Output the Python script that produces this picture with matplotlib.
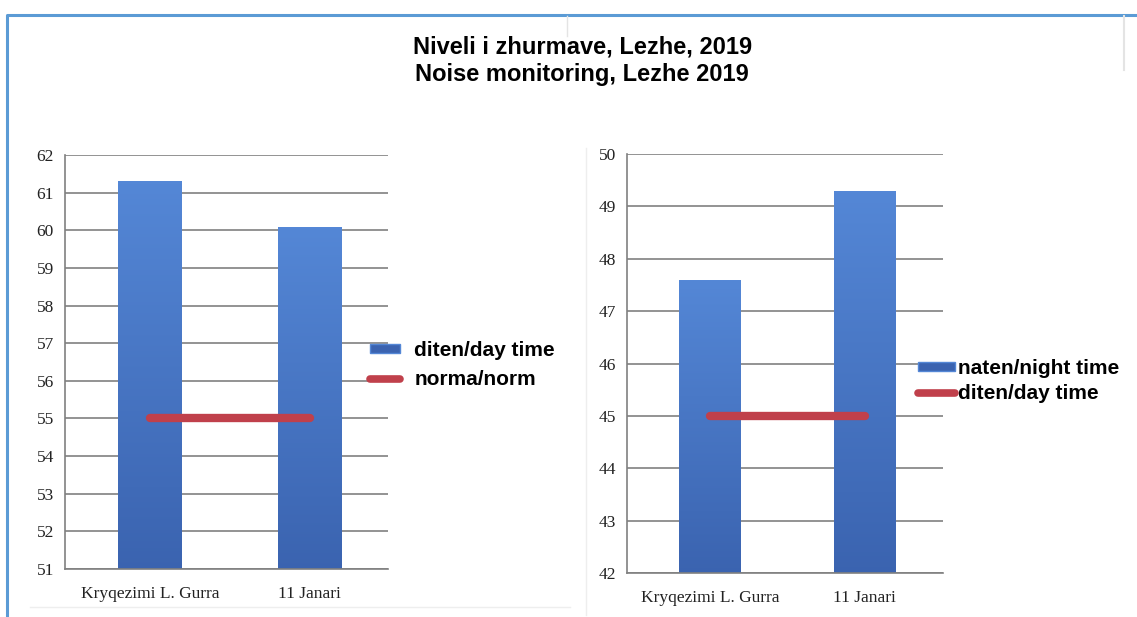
import numpy as np
import matplotlib.pyplot as plt
from matplotlib.lines import Line2D
from matplotlib.patches import Patch

# data
categories = ["Kryqezimi L. Gurra", "11 Janari"]
day_values = [61.3, 60.1]
day_norm = [55, 55]
night_values = [47.6, 49.3]
night_norm = [45, 45]

title_lines = ["Niveli i zhurmave, Lezhe, 2019", "Noise monitoring, Lezhe 2019"]

BLUE_TOP = np.array([0.33, 0.53, 0.84])
BLUE_BOT = np.array([0.23, 0.39, 0.69])
RED = "#c0404b"
GRID = "#808080"

fig = plt.figure(figsize=(11.37, 6.17), dpi=100)


def gradient_bars(ax, bars):
    # vertical gradient inside each bar, lighter at the top
    grad = np.linspace(0, 1, 256)[:, None, None]
    img = BLUE_BOT * (1 - grad) + BLUE_TOP * grad
    for b in bars:
        x0, y0 = b.get_x(), b.get_y()
        w, h = b.get_width(), b.get_height()
        im = ax.imshow(img, extent=(x0, x0 + w, y0, y0 + h), origin="lower",
                       aspect="auto", zorder=2)
        im.set_clip_path(b)
        b.set_facecolor("none")


def draw_panel(rect, values, norm, ylim, xlim):
    ax = fig.add_axes(rect)
    x = np.arange(len(categories))
    bars = ax.bar(x, values - np.array(ylim[0]), bottom=ylim[0], width=0.4,
                  color="none", edgecolor="none", zorder=2)
    gradient_bars(ax, bars)
    ax.plot(x, norm, color=RED, lw=6, solid_capstyle="round", zorder=3)
    ax.set_xlim(*xlim)
    ax.set_ylim(*ylim)
    ax.set_yticks(np.arange(ylim[0], ylim[1] + 1))
    ax.set_xticks(x)
    ax.set_xticklabels(categories)
    ax.yaxis.grid(True, color=GRID, lw=1.2, zorder=1)
    ax.set_axisbelow(True)
    for s in ["top", "right"]:
        ax.spines[s].set_visible(False)
    for s in ["left", "bottom"]:
        ax.spines[s].set_color(GRID)
        ax.spines[s].set_linewidth(1.2)
    ax.tick_params(length=0, labelsize=12.5, colors="#222222")
    ax.tick_params(axis="y", pad=8)
    ax.tick_params(axis="x", pad=12)
    for lab in ax.get_xticklabels() + ax.get_yticklabels():
        lab.set_family("Liberation Serif")
    return ax


ax1 = draw_panel([0.0572, 0.0778, 0.284, 0.671], day_values, day_norm,
                 (51, 62), (-0.53, 1.49))
ax2 = draw_panel([0.5515, 0.0713, 0.278, 0.679], night_values, night_norm,
                 (42, 50), (-0.54, 1.51))

legend_font = {"family": "Liberation Sans", "weight": "bold", "size": 15}


def add_legend(ax, labels, anchor, spacing, hlen, textpad):
    handles = [Patch(facecolor=BLUE_BOT, edgecolor=BLUE_TOP),
               Line2D([0], [0], color=RED, lw=5.5, solid_capstyle="round")]
    ax.legend(handles, labels, loc="upper left", bbox_to_anchor=anchor,
              bbox_transform=fig.transFigure, frameon=False, prop=legend_font,
              borderpad=0, borderaxespad=0, handlelength=hlen, handleheight=0.35,
              handletextpad=textpad, labelspacing=spacing)


add_legend(ax1, ["diten/day time", "norma/norm"], (0.325, 1 - 341 / 617), 0.5, 1.45, 0.7)
add_legend(ax2, ["naten/night time", "diten/day time"], (0.807, 1 - 359 / 617), 0.28, 1.8, 0.15)

fig.text(0.512, 1 - 61 / 617, "\n".join(title_lines), ha="center", va="center",
         family="Liberation Sans", weight="bold", size=17, linespacing=1.25)

# page frame and faint separators from the screenshot
W, H = 1137, 617
def fline(xs, ys, color, lw):
    fig.add_artist(Line2D([v / W for v in xs], [1 - v / H for v in ys],
                          color=color, lw=lw, transform=fig.transFigure))

fline([7, 7, 1137], [617, 15, 15], "#5b9bd5", 2.2)
fline([567, 567], [16, 36], "#e4e4e4", 1.0)
fline([1124, 1124], [16, 70], "#e4e4e4", 1.5)
fline([586, 586], [148, 615], "#eeeeee", 1.0)
fline([30, 570], [607, 607], "#eeeeee", 1.0)

fig.savefig("out.png", dpi=100)
